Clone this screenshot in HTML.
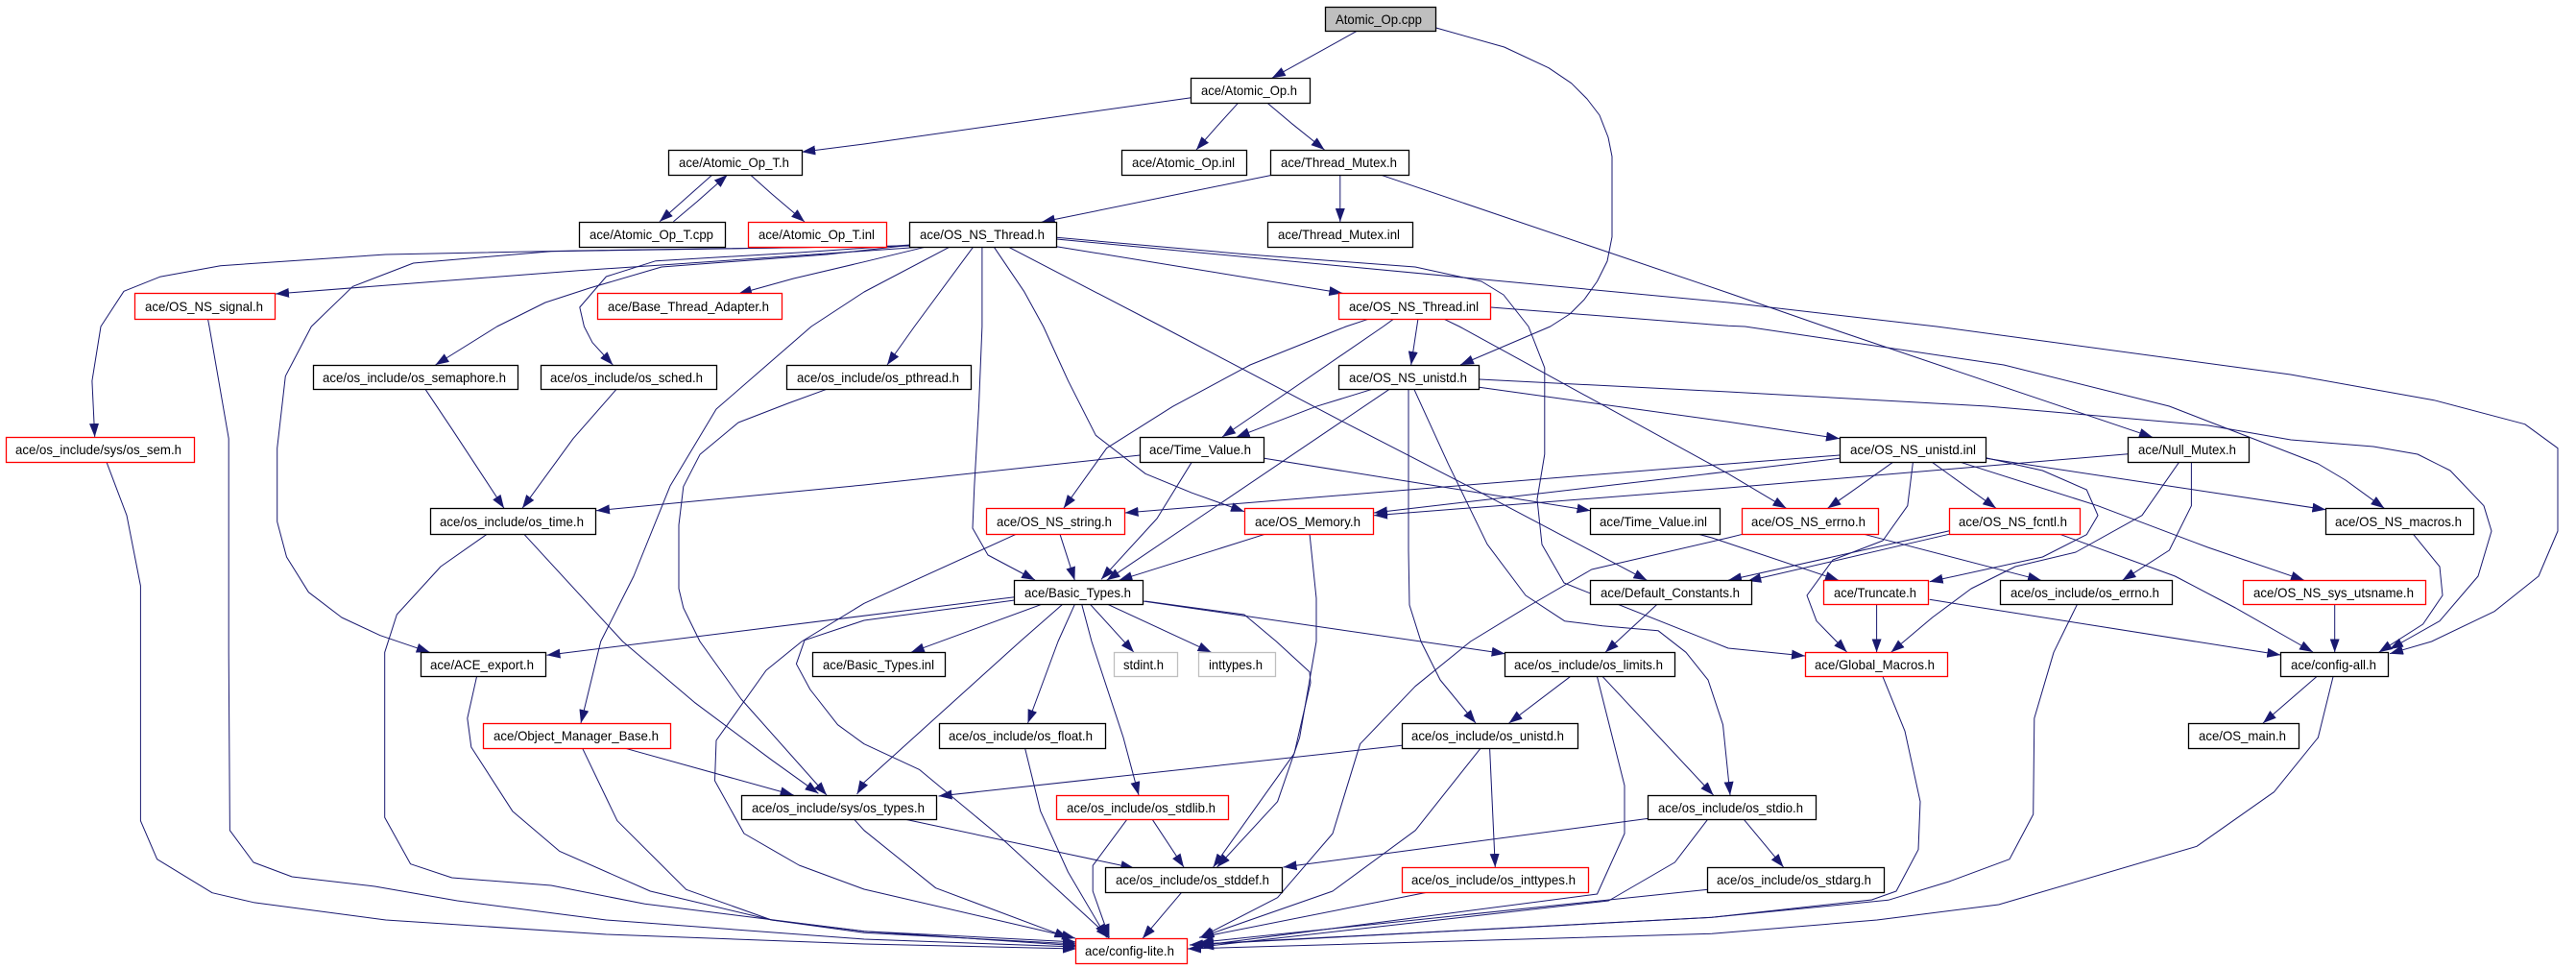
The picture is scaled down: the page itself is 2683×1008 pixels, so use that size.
<!DOCTYPE html>
<html><head><meta charset="utf-8"><title>Atomic_Op.cpp include graph</title>
<style>
html,body{margin:0;padding:0;background:#fff}
svg{display:block}
polyline{fill:none;stroke:#191970;stroke-width:1;stroke-linejoin:round;marker-end:url(#a)}
rect{stroke:#000;stroke-width:1.3;fill:#fff}
rect.r{stroke:#f00}
rect.g{stroke:#bfbfbf}
rect.f{fill:#bfbfbf}
text{font-family:"Liberation Sans",sans-serif;font-size:14px;fill:#000}
</style></head><body>
<svg xmlns="http://www.w3.org/2000/svg" width="2683" height="1008" viewBox="0 0 2683 1008">
<defs><marker id="a" markerUnits="userSpaceOnUse" markerWidth="14" markerHeight="10" refX="14" refY="5" orient="auto"><polygon points="0,0 14,5 0,10" fill="#191970"/></marker></defs>
<g>
<polyline points="1412.6,32.7 1324.8,81.3"/>
<polyline points="1495.7,29 1566.7,49 1613,70.7 1636.7,86.7 1653,103 1666,120 1675,143 1679,163 1679,246.7 1674,272 1663.5,293 1650,312 1635,327 1614.7,340 1521,380"/>
<polyline points="1240.6,101.7 900,150 835.2,158.3"/>
<polyline points="1289.5,107.3 1267.4,131.7 1246,156"/>
<polyline points="1320,107.3 1345,128.3 1379.5,156"/>
<polyline points="1327.6,181.7 1084.8,231.3"/>
<polyline points="1395.8,181.7 1395.8,231"/>
<polyline points="1436.8,181.7 1800,305 1900.7,340 2242,455.3"/>
<polyline points="742.2,181.7 687,230.7"/>
<polyline points="701.4,230.7 726,210 757.7,182"/>
<polyline points="781.2,181.7 803.6,201.7 838,231"/>
<polyline points="947.6,256 602.7,261 401.8,265 229.6,276.7 166.5,288.3 129,303.3 105,340 95.9,396.7 98.7,455"/>
<polyline points="966,256.7 689,276 602.7,281.7 287,306"/>
<polyline points="948,256 574,261.7 430.5,274 367.4,298.3 324.3,340 297.3,391.7 288.7,466.7 288.7,543.3 298.5,580 321.4,616.7 355.9,643 396,661.7 447.7,679.3"/>
<polyline points="950,255 861,265 689,278 614,300 568,315 517.7,340 453.5,380"/>
<polyline points="948,255 832,263 683,271.7 631.4,288 603.8,320 608.4,340 617,356.7 638.3,380"/>
<polyline points="966,256.7 900,272.7 826.6,290 769,306"/>
<polyline points="990,256.7 900,304 845,340 746,426 698,506 660,600 625.7,668 605,753"/>
<polyline points="1014,256.7 952.8,339.5 924,380"/>
<polyline points="1022.9,256.7 1022.9,340 1019.5,423 1014.8,506.7 1013,550 1029,578 1078,604"/>
<polyline points="1034.9,256.7 1066.5,303.3 1086.7,340 1112.6,396.7 1141.3,453.3 1193,493.3 1241.6,513.3 1296,532.7"/>
<polyline points="1049.4,256.7 1210,340 1394,436.7 1543,513.3 1715.4,604.3"/>
<polyline points="1100.3,247.3 1300,265 1474,278 1543,293 1566,307 1592,340 1608.8,383 1608.8,473 1601,520 1606,567 1629,607 1800,675 1880,683"/>
<polyline points="1100.3,249 1800,315 2017,340 2385.6,390 2535,416.7 2629.7,441.7 2664,466.7 2664,553 2644,600 2598,636.7 2532.6,668 2489,680.7"/>
<polyline points="1100.3,256.7 1398.3,305.3"/>
<polyline points="1552.6,320 1800,339.3 1817.4,340 2087,380 2259.4,423 2414.4,483 2443,500 2483.3,529.3"/>
<polyline points="1427,331.7 1402,340 1302,380 1221.4,423.3 1152.6,466.7 1107.8,529.3"/>
<polyline points="1452.2,331.7 1440.7,340 1273,455"/>
<polyline points="1477,331.7 1469.7,380"/>
<polyline points="1502.8,331.7 1520,340 1800,493.3 1860.5,529.3"/>
<polyline points="443,405.3 470.7,446.7 525,529.3"/>
<polyline points="641.7,405.7 597,456.7 544,529.3"/>
<polyline points="1428,405.7 1370.7,423.3 1287.6,455.3"/>
<polyline points="1446.6,405.7 1152.6,604.3"/>
<polyline points="1467,405.7 1467,573 1468,630 1480,668 1500,708 1537,753"/>
<polyline points="1473,405.7 1508.5,483.3 1549,566.7 1589,620 1629.6,646.7 1669,651.7 1727,656.7 1756,679.3 1779,708 1794.5,754.7 1802,828"/>
<polyline points="1540.6,395 1800,408 2070,423 2300,443 2386,458 2472,465 2518,473 2552,490 2587,526.7 2595,553 2581,600 2541,646.7 2489,676"/>
<polyline points="1540.6,403.3 1800,439.3 1916,456.7"/>
<polyline points="1187.6,474 900,505 621,531.7"/>
<polyline points="1241.6,480.7 1205,540 1147,603.3"/>
<polyline points="1316.7,477.3 1656.5,531.7"/>
<polyline points="1916,474 1800,483 1171.6,534"/>
<polyline points="1916,477.3 1800,491 1431,534"/>
<polyline points="2216.4,472.7 1800,508 1431,536.7"/>
<polyline points="2270,480.7 2231,536.7 2162,575 2099,590 2053,613 2012.6,643 1969.6,679.3"/>
<polyline points="2282.4,480.7 2282.4,526.7 2259.4,573 2210.6,604.3"/>
<polyline points="1972.4,480.7 1926.5,513.3 1903.5,529.3"/>
<polyline points="2011.5,480.7 2079,529.3"/>
<polyline points="1992.5,480.7 1986.8,526.7 1961,563 1909,583 1882,620 1892,646.7 1923.6,679"/>
<polyline points="2030.4,552.7 1800,604.3"/>
<polyline points="2032.7,555.7 1820.3,605"/>
<polyline points="2068.3,476.7 2127.4,490 2173.3,510 2185,536.7 2173.3,556.7 2127.4,580 2009.7,605.7"/>
<polyline points="2068.3,477.3 2422.4,530.7"/>
<polyline points="2040,480.7 2185,526.7 2299.6,570 2400,604.3"/>
<polyline points="1939,555.7 2126,604.3"/>
<polyline points="1817.4,555.7 1800,560 1657.7,593 1589,633 1531.6,668 1474,714.7 1416.6,774.7 1388,868 1330.6,934.7 1250,976.3"/>
<polyline points="2143.7,555.7 2265.4,600 2328.3,633 2409,679"/>
<polyline points="1954.6,629.3 1954.6,679.3"/>
<polyline points="2009.7,624.3 2375.3,682"/>
<polyline points="1766.7,555.7 1783,560 1915,604.3"/>
<polyline points="2513,555.7 2541,590 2544,620 2523.6,650 2477.6,679.3"/>
<polyline points="2431.7,629.3 2431.7,679.3"/>
<polyline points="2412.7,704.7 2357,753"/>
<polyline points="2430,704.7 2414.4,768 2368.5,824.7 2288,881.3 2081.7,942 1955,958 1783,972.3 1237,988"/>
<polyline points="1961,704.7 1984,761.3 2000,834.7 1998,884.7 1975,928 1949.5,937 1783,955.3 1250,983"/>
<polyline points="2163.5,629.3 2139,679.3 2118.8,748 2117.7,848 2093,894.7 2030,918 1966.7,937.3 1783,955.3 1239,984"/>
<polyline points="1635.3,704.7 1571.6,753"/>
<polyline points="1663.5,704.7 1692,818 1692,868 1663.5,931 1250,984.7"/>
<polyline points="1669.3,704.7 1784.6,828"/>
<polyline points="1726,629.3 1672,679.3"/>
<polyline points="1190.5,626 1567.6,680.7"/>
<polyline points="1056.7,621.7 569.5,682.3"/>
<polyline points="1056.7,625 900,646 838,666.7 829.4,691.3 843.8,718 872.5,754.7 900,774.7 957.4,801.3 1037.8,868 1146.8,968 1155,977"/>
<polyline points="1059.6,555.7 900,628.3 835,668 798,698 746,771 744.5,813 775,868 832.3,901 900,926 1120,977"/>
<polyline points="1085,629.3 948.8,679.3"/>
<polyline points="1106.7,629.3 1062.5,668 900,814.7 892.6,827"/>
<polyline points="1119.4,629.3 1102,668 1070.5,753"/>
<polyline points="1126.7,629.3 1137,668 1170,768 1186,828"/>
<polyline points="1135.5,629.3 1181,679.3"/>
<polyline points="1153.7,629.3 1261.6,679.3"/>
<polyline points="1192.7,626 1296,640 1329.4,668 1364,699.7 1365,711 1348,784.7 1263.6,903"/>
<polyline points="1364,555.7 1371,623 1371,668 1353.6,768 1330.6,834.7 1267.6,903"/>
<polyline points="651.5,779.3 826.6,828"/>
<polyline points="545.3,555.7 648.6,668 723.2,731.3 803.6,791.3 852.4,826.3"/>
<polyline points="861,405.3 820.8,420 769,440 729,473.3 711.8,506.7 707,546.7 707,613 711.8,633 729,668 772,728 861,828"/>
<polyline points="1460,776.3 977.5,829"/>
<polyline points="943,853.3 1181.3,904"/>
<polyline points="889.7,853.3 900,864.7 974.6,924.7 1112.4,976.3"/>
<polyline points="1200.2,853.3 1233,903"/>
<polyline points="1173.8,853.3 1138.2,901.3 1138.2,928 1155.4,976.3"/>
<polyline points="1067.6,779.3 1083.7,844.7 1112.4,908 1152.6,976.3"/>
<polyline points="1231.2,928.7 1190,977.3"/>
<polyline points="1717.3,852.3 1336.6,903"/>
<polyline points="1778.6,853.3 1744.4,898 1675.4,938 1250,986"/>
<polyline points="1816.3,853.3 1857.6,903"/>
<polyline points="1779,926.3 1250,981.3"/>
<polyline points="1488.7,928.7 1249,976.3"/>
<polyline points="1551.6,779.3 1557.3,903"/>
<polyline points="1542,779.3 1474.2,864.7 1388,928 1250.5,976"/>
<polyline points="1103.8,555.7 1119.4,604.3"/>
<polyline points="1319.4,555.7 1165.4,604.3"/>
<polyline points="110.8,480.7 132,536.7 146.4,610 146.4,854.7 163.6,894.7 221,929.7 264,939.7 401.8,958 631.4,973 900,983 1121,988"/>
<polyline points="216.4,331.7 218,340 238.2,456.7 238.2,679.3 239.4,864.7 264,898 304.2,913 390.3,923 476.4,938 631.4,958 900,978 1121,986"/>
<polyline points="508,555.7 459,590 413.3,640 400.7,679.3 400.7,851.3 427.6,899.7 470.7,914 574,922 671.6,941.3 900,969.7 1121,984.7"/>
<polyline points="496.5,704.7 486.8,748 490.8,778 533.8,844.7 582.6,886.3 677.3,928 803.6,958 900,969.7 1121,981"/>
<polyline points="606.7,779.3 642.9,854.7 714.7,926.3 803.6,958 900,971.3 1121,983"/>
</g>
<g>
<rect class="f" x="1380.5" y="7.5" width="115" height="25"/><text x="1391" y="25" textLength="90" lengthAdjust="spacingAndGlyphs">Atomic_Op.cpp</text>
<rect x="1240.5" y="81.5" width="124" height="26"/><text x="1251" y="99" textLength="100" lengthAdjust="spacingAndGlyphs">ace/Atomic_Op.h</text>
<rect x="696.5" y="156.5" width="139" height="26"/><text x="707" y="174" textLength="115" lengthAdjust="spacingAndGlyphs">ace/Atomic_Op_T.h</text>
<rect x="1168.5" y="156.5" width="130" height="26"/><text x="1179" y="174" textLength="107" lengthAdjust="spacingAndGlyphs">ace/Atomic_Op.inl</text>
<rect x="1323.5" y="156.5" width="144" height="26"/><text x="1334" y="174" textLength="121" lengthAdjust="spacingAndGlyphs">ace/Thread_Mutex.h</text>
<rect x="603.5" y="231.5" width="152" height="26"/><text x="614" y="249" textLength="129" lengthAdjust="spacingAndGlyphs">ace/Atomic_Op_T.cpp</text>
<rect class="r" x="779.5" y="231.5" width="144" height="26"/><text x="790" y="249" textLength="121" lengthAdjust="spacingAndGlyphs">ace/Atomic_Op_T.inl</text>
<rect x="947.5" y="231.5" width="153" height="26"/><text x="958" y="249" textLength="130" lengthAdjust="spacingAndGlyphs">ace/OS_NS_Thread.h</text>
<rect x="1320.5" y="231.5" width="151" height="26"/><text x="1331" y="249" textLength="127" lengthAdjust="spacingAndGlyphs">ace/Thread_Mutex.inl</text>
<rect class="r" x="140.5" y="305.5" width="146" height="27"/><text x="151" y="324" textLength="123" lengthAdjust="spacingAndGlyphs">ace/OS_NS_signal.h</text>
<rect class="r" x="622.5" y="305.5" width="192" height="27"/><text x="633" y="324" textLength="168" lengthAdjust="spacingAndGlyphs">ace/Base_Thread_Adapter.h</text>
<rect class="r" x="1394.5" y="305.5" width="158" height="27"/><text x="1405" y="324" textLength="135" lengthAdjust="spacingAndGlyphs">ace/OS_NS_Thread.inl</text>
<rect x="326.5" y="380.5" width="213" height="25"/><text x="336" y="398" textLength="191" lengthAdjust="spacingAndGlyphs">ace/os_include/os_semaphore.h</text>
<rect x="563.5" y="380.5" width="183" height="25"/><text x="573" y="398" textLength="159" lengthAdjust="spacingAndGlyphs">ace/os_include/os_sched.h</text>
<rect x="819.5" y="380.5" width="192" height="25"/><text x="830" y="398" textLength="169" lengthAdjust="spacingAndGlyphs">ace/os_include/os_pthread.h</text>
<rect x="1394.5" y="380.5" width="146" height="25"/><text x="1405" y="398" textLength="123" lengthAdjust="spacingAndGlyphs">ace/OS_NS_unistd.h</text>
<rect class="r" x="6.5" y="455.5" width="196" height="26"/><text x="16" y="473" textLength="173" lengthAdjust="spacingAndGlyphs">ace/os_include/sys/os_sem.h</text>
<rect x="1187.5" y="455.5" width="129" height="26"/><text x="1197" y="473" textLength="106" lengthAdjust="spacingAndGlyphs">ace/Time_Value.h</text>
<rect x="1916.5" y="455.5" width="152" height="26"/><text x="1927" y="473" textLength="131" lengthAdjust="spacingAndGlyphs">ace/OS_NS_unistd.inl</text>
<rect x="2216.5" y="455.5" width="126" height="26"/><text x="2227" y="473" textLength="102" lengthAdjust="spacingAndGlyphs">ace/Null_Mutex.h</text>
<rect x="448.5" y="529.5" width="172" height="27"/><text x="458" y="548" textLength="150" lengthAdjust="spacingAndGlyphs">ace/os_include/os_time.h</text>
<rect class="r" x="1027.5" y="529.5" width="144" height="27"/><text x="1038" y="548" textLength="120" lengthAdjust="spacingAndGlyphs">ace/OS_NS_string.h</text>
<rect class="r" x="1296.5" y="529.5" width="134" height="27"/><text x="1307" y="548" textLength="110" lengthAdjust="spacingAndGlyphs">ace/OS_Memory.h</text>
<rect x="1656.5" y="529.5" width="135" height="27"/><text x="1666" y="548" textLength="112" lengthAdjust="spacingAndGlyphs">ace/Time_Value.inl</text>
<rect class="r" x="1814.5" y="529.5" width="142" height="27"/><text x="1824" y="548" textLength="119" lengthAdjust="spacingAndGlyphs">ace/OS_NS_errno.h</text>
<rect class="r" x="2030.5" y="529.5" width="136" height="27"/><text x="2040" y="548" textLength="113" lengthAdjust="spacingAndGlyphs">ace/OS_NS_fcntl.h</text>
<rect x="2422.5" y="529.5" width="154" height="27"/><text x="2432" y="548" textLength="132" lengthAdjust="spacingAndGlyphs">ace/OS_NS_macros.h</text>
<rect x="1056.5" y="604.5" width="134" height="25"/><text x="1067" y="622" textLength="111" lengthAdjust="spacingAndGlyphs">ace/Basic_Types.h</text>
<rect x="1656.5" y="604.5" width="168" height="25"/><text x="1667" y="622" textLength="145" lengthAdjust="spacingAndGlyphs">ace/Default_Constants.h</text>
<rect class="r" x="1899.5" y="604.5" width="109" height="25"/><text x="1910" y="622" textLength="86" lengthAdjust="spacingAndGlyphs">ace/Truncate.h</text>
<rect x="2083.5" y="604.5" width="179" height="25"/><text x="2094" y="622" textLength="155" lengthAdjust="spacingAndGlyphs">ace/os_include/os_errno.h</text>
<rect class="r" x="2336.5" y="604.5" width="190" height="25"/><text x="2347" y="622" textLength="167" lengthAdjust="spacingAndGlyphs">ace/OS_NS_sys_utsname.h</text>
<rect x="438.5" y="679.5" width="130" height="25"/><text x="448" y="697" textLength="108" lengthAdjust="spacingAndGlyphs">ace/ACE_export.h</text>
<rect x="846.5" y="679.5" width="138" height="25"/><text x="857" y="697" textLength="116" lengthAdjust="spacingAndGlyphs">ace/Basic_Types.inl</text>
<rect class="g" x="1160.5" y="679.5" width="66" height="25"/><text x="1170" y="697" textLength="42" lengthAdjust="spacingAndGlyphs">stdint.h</text>
<rect class="g" x="1248.5" y="679.5" width="80" height="25"/><text x="1259" y="697" textLength="56" lengthAdjust="spacingAndGlyphs">inttypes.h</text>
<rect x="1567.5" y="679.5" width="177" height="25"/><text x="1577" y="697" textLength="155" lengthAdjust="spacingAndGlyphs">ace/os_include/os_limits.h</text>
<rect class="r" x="1880.5" y="679.5" width="148" height="25"/><text x="1890" y="697" textLength="125" lengthAdjust="spacingAndGlyphs">ace/Global_Macros.h</text>
<rect x="2375.5" y="679.5" width="112" height="25"/><text x="2386" y="697" textLength="89" lengthAdjust="spacingAndGlyphs">ace/config-all.h</text>
<rect class="r" x="503.5" y="753.5" width="195" height="26"/><text x="514" y="771" textLength="172" lengthAdjust="spacingAndGlyphs">ace/Object_Manager_Base.h</text>
<rect x="978.5" y="753.5" width="173" height="26"/><text x="988" y="771" textLength="150" lengthAdjust="spacingAndGlyphs">ace/os_include/os_float.h</text>
<rect x="1460.5" y="753.5" width="183" height="26"/><text x="1470" y="771" textLength="159" lengthAdjust="spacingAndGlyphs">ace/os_include/os_unistd.h</text>
<rect x="2279.5" y="753.5" width="115" height="26"/><text x="2290" y="771" textLength="91" lengthAdjust="spacingAndGlyphs">ace/OS_main.h</text>
<rect x="772.5" y="828.5" width="203" height="25"/><text x="783" y="846" textLength="180" lengthAdjust="spacingAndGlyphs">ace/os_include/sys/os_types.h</text>
<rect class="r" x="1100.5" y="828.5" width="179" height="25"/><text x="1111" y="846" textLength="155" lengthAdjust="spacingAndGlyphs">ace/os_include/os_stdlib.h</text>
<rect x="1716.5" y="828.5" width="175" height="25"/><text x="1727" y="846" textLength="151" lengthAdjust="spacingAndGlyphs">ace/os_include/os_stdio.h</text>
<rect x="1151.5" y="903.5" width="184" height="26"/><text x="1162" y="921" textLength="160" lengthAdjust="spacingAndGlyphs">ace/os_include/os_stddef.h</text>
<rect class="r" x="1460.5" y="903.5" width="194" height="26"/><text x="1470" y="921" textLength="171" lengthAdjust="spacingAndGlyphs">ace/os_include/os_inttypes.h</text>
<rect x="1778.5" y="903.5" width="184" height="26"/><text x="1788" y="921" textLength="161" lengthAdjust="spacingAndGlyphs">ace/os_include/os_stdarg.h</text>
<rect class="r" x="1120.5" y="977.5" width="116" height="26"/><text x="1130" y="995" textLength="93" lengthAdjust="spacingAndGlyphs">ace/config-lite.h</text>
</g>
</svg>
</body></html>
